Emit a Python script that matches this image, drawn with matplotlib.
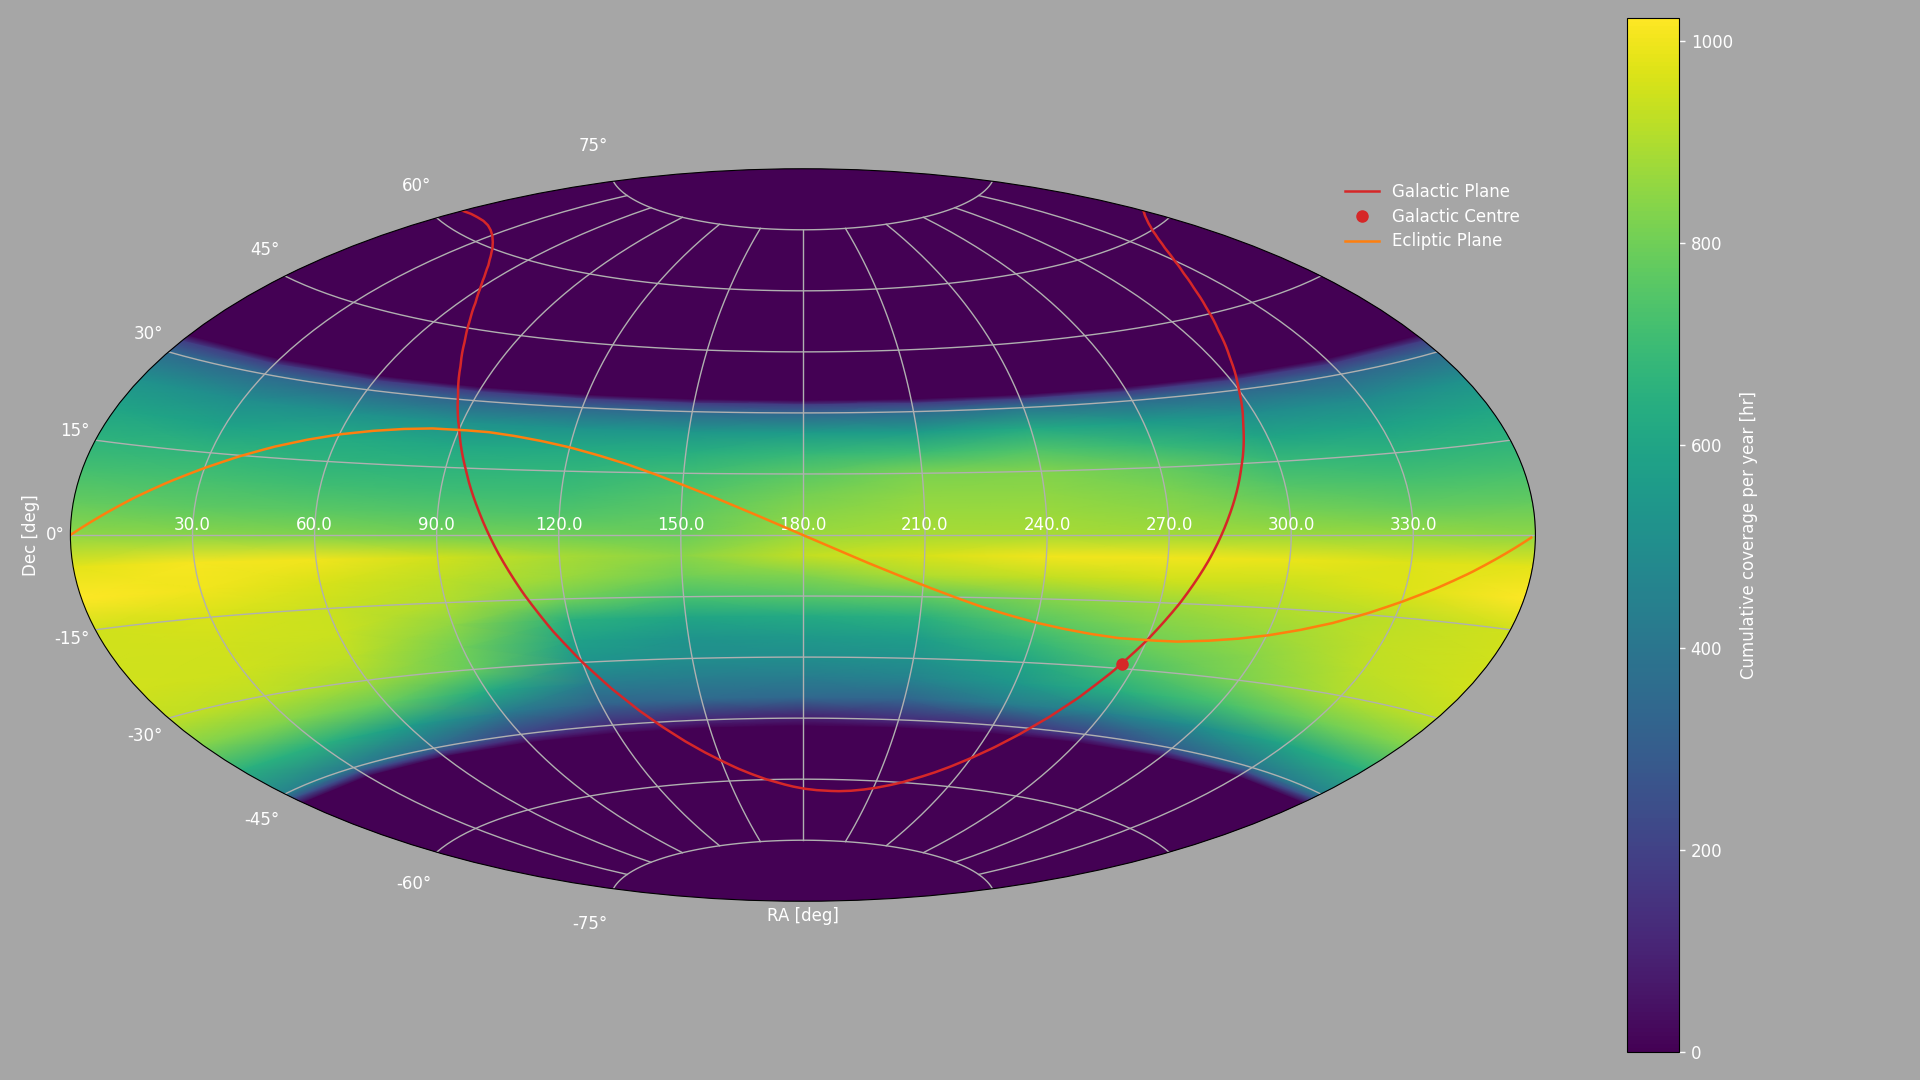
import numpy as np
import matplotlib
matplotlib.use("Agg")
import matplotlib.pyplot as plt
from matplotlib.transforms import Affine2D

BG = "#a6a6a6"
TEXT = "white"

# coverage map, columns are RA, rows are Dec
ra_knots = [0, 30, 60, 90, 120, 150, 180, 210, 240, 270, 300, 330]
dec_knots = [90, 33, 32, 30, 25, 20, 15, 10, 5, 0, -5, -10, -15, -20, -25, -30, -35, -40, -45, -46, -47, -90]
coverage_hr = [
    [0, 0, 0, 0, 0, 0, 0, 0, 0, 0, 0, 0],
    [0, 0, 0, 0, 0, 0, 0, 0, 0, 0, 0, 0],
    [190, 190, 180, 180, 180, 180, 180, 180, 190, 180, 180, 180],
    [350, 350, 340, 330, 340, 340, 330, 350, 400, 360, 340, 340],
    [520, 500, 520, 520, 530, 540, 560, 560, 620, 560, 500, 490],
    [600, 590, 620, 610, 620, 640, 680, 700, 740, 680, 600, 590],
    [660, 670, 660, 660, 670, 700, 760, 820, 830, 780, 690, 660],
    [720, 720, 710, 700, 700, 740, 810, 850, 850, 820, 750, 720],
    [780, 770, 760, 750, 740, 770, 840, 870, 870, 850, 810, 780],
    [850, 840, 830, 810, 800, 790, 870, 890, 890, 880, 870, 860],
    [980, 1010, 1000, 950, 890, 840, 930, 960, 1000, 1000, 990, 970],
    [1020, 1000, 960, 920, 870, 800, 830, 900, 930, 950, 940, 970],
    [950, 960, 940, 900, 800, 720, 750, 770, 830, 870, 900, 920],
    [950, 950, 940, 850, 650, 600, 620, 650, 760, 830, 870, 930],
    [950, 945, 920, 800, 580, 530, 550, 570, 680, 790, 840, 920],
    [930, 920, 880, 780, 530, 500, 500, 520, 600, 730, 820, 900],
    [830, 830, 780, 620, 430, 430, 430, 450, 540, 640, 720, 800],
    [650, 650, 560, 420, 320, 350, 340, 330, 420, 440, 500, 600],
    [450, 420, 350, 200, 120, 100, 80, 120, 130, 200, 300, 400],
    [250, 230, 190, 110, 70, 60, 50, 70, 70, 110, 170, 220],
    [0, 0, 0, 0, 0, 0, 0, 0, 0, 0, 0, 0],
    [0, 0, 0, 0, 0, 0, 0, 0, 0, 0, 0, 0],
]

gal_ra = list(range(0, 365, 5))
gal_dec = [62.3, 62.65, 62.8, 62.85, 62.7, 62.34, 61.8, 61.05, 60.1, 58.82, 57.3, 55.36, 53.0,
           50.14, 46.6, 42.37, 37.2, 30.9, 23.5, 14.94, 5.6, -4.17, -13.6, -22.32, -29.9, -36.33,
           -41.7, -46.07, -49.7, -52.62, -55.0, -57.02, -58.6, -59.9, -60.9, -61.71, -62.3, -62.65,
           -62.8, -62.85, -62.7, -62.34, -61.8, -61.05, -60.1, -58.82, -57.3, -55.36, -53.0, -50.14,
           -46.6, -42.37, -37.2, -30.9, -23.5, -14.94, -5.6, 4.17, 13.6, 22.32, 29.9, 36.33,
           41.7, 46.07, 49.7, 52.62, 55.0, 57.02, 58.6, 59.9, 60.9, 61.71, 62.3]
gc_ra = 266.4
gc_dec = -28.9
ecl_ra = [0, 7.5, 15, 22.5, 30, 37.5, 45, 52.5, 60, 67.5, 75, 82.5, 90, 97.5, 105, 112.5, 120,
          127.5, 135, 142.5, 150, 157.5, 165, 172.5, 180, 187.5, 195, 202.5, 210, 217.5, 225,
          232.5, 240, 247.5, 255, 262.5, 270, 277.5, 285, 292.5, 300, 307.5, 315, 322.5, 330,
          337.5, 345, 352.5, 359]
ecl_dec = [0, 3.2, 6.4, 9.4, 12.2, 14.8, 17.1, 19.0, 20.6, 21.8, 22.7, 23.3, 23.4, 23.3, 22.7,
           21.8, 20.6, 19.0, 17.1, 14.8, 12.2, 9.4, 6.4, 3.2, 0, -3.2, -6.4, -9.4, -12.2, -14.8,
           -17.1, -19.0, -20.6, -21.8, -22.7, -23.3, -23.4, -23.3, -22.7, -21.8, -20.6, -19.0,
           -17.1, -14.8, -12.2, -9.4, -6.4, -3.2, -0.4]

ra_tick_labels = ["30.0", "60.0", "90.0", "120.0", "150.0", "180.0", "210.0",
                  "240.0", "270.0", "300.0", "330.0"]


def to_lon(ra):
    return np.radians(np.asarray(ra, dtype=float) - 180.0)


W, H = 1920, 1080
fig = plt.figure(figsize=(W / 100, H / 100), dpi=100, facecolor=BG)
ax = fig.add_axes([70.4 / W, 1 - 901.5 / H, 1465 / W, 733 / H], projection="aitoff")
ax.set_facecolor(plt.get_cmap("viridis")(0))

# wrap the columns past the map edge so the ellipse outline gets filled
vals = np.array(coverage_hr, dtype=float)
vals = np.hstack([vals[:, -1:], vals, vals[:, :2]])
ra_wrap = [ra_knots[-1] - 360] + ra_knots + [360, 390]
mesh = ax.pcolormesh(to_lon(ra_wrap), np.radians(dec_knots), vals, cmap="viridis",
                     vmin=0, vmax=1023, shading="gouraud")

ax.plot(to_lon(gal_ra), np.radians(gal_dec), color="tab:red", lw=1.8, label="Galactic Plane")
ax.plot(to_lon(gc_ra), np.radians(gc_dec), "o", color="tab:red", ms=8, ls="none", label="Galactic Centre")
ax.plot(to_lon(ecl_ra), np.radians(ecl_dec), color="tab:orange", lw=1.8, label="Ecliptic Plane")

ax.grid(True, color="#b0b0b0", lw=1.0)
ax.set_xticklabels(ra_tick_labels)
ax.tick_params(labelsize=12, colors=TEXT)
for t in ax.yaxis.get_major_ticks():
    t.label1.set_transform(t.label1.get_transform() + Affine2D().translate(2.5, 0))
for t in ax.xaxis.get_major_ticks():
    t.label1.set_transform(t.label1.get_transform() + Affine2D().translate(0, -2.5))
ax.set_xlabel("RA [deg]", fontsize=12, color=TEXT)
ax.set_ylabel("Dec [deg]", fontsize=12, color=TEXT)

fig.legend(loc="upper left", bbox_to_anchor=(1338.5 / W, 1 - 176.5 / H), frameon=False,
           fontsize=12, labelcolor=TEXT, borderaxespad=0, labelspacing=0.4)

cax = fig.add_axes([1627 / W, 1 - 1052 / H, 52 / W, 1034.5 / H])
cbar = fig.colorbar(mesh, cax=cax)
cbar.set_label("Cumulative coverage per year [hr]", fontsize=12, color=TEXT, labelpad=5)
cbar.set_ticks([0, 200, 400, 600, 800, 1000])
cbar.ax.tick_params(labelsize=12, colors=TEXT, length=4, width=1, pad=4.4)

fig.savefig("out.png", dpi=100, facecolor=BG)
